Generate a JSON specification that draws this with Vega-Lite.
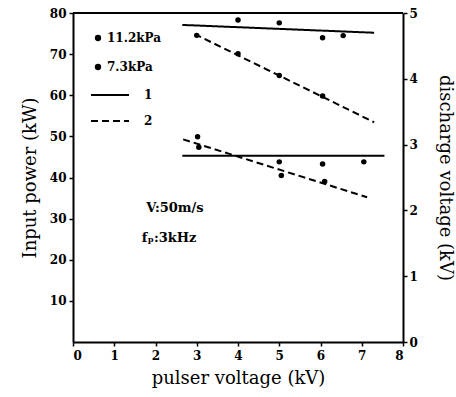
{
  "$schema": "https://vega.github.io/schema/vega-lite/v6.json",
  "autosize": "none",
  "width": 330,
  "height": 329,
  "padding": {"left": 73, "top": 13, "right": 53, "bottom": 55},
  "background": "white",
  "config": {
    "view": {"stroke": null},
    "font": "DejaVu Serif",
    "axis": {
      "labelFont": "DejaVu Serif", "labelFontWeight": "bold", "labelFontSize": 12, "labelColor": "black",
      "titleFont": "DejaVu Serif", "titleFontWeight": "normal", "titleFontSize": 18, "titleColor": "black",
      "domainColor": "black", "domainWidth": 2, "tickColor": "black", "tickWidth": 1.5, "tickSize": 4, "grid": false
    },
    "legend": {
      "labelFont": "DejaVu Serif", "labelFontWeight": "bold", "labelFontSize": 12, "labelColor": "black"
    }
  },
  "datasets": {
    "powerPts": [
      {"x": 4.0, "y": 78.3, "pressure": "11.2kPa"},
      {"x": 5.0, "y": 77.6, "pressure": "11.2kPa"},
      {"x": 6.05, "y": 74.0, "pressure": "11.2kPa"},
      {"x": 6.55, "y": 74.5, "pressure": "11.2kPa"},
      {"x": 3.02, "y": 49.9, "pressure": "7.3kPa"},
      {"x": 5.0, "y": 43.8, "pressure": "7.3kPa"},
      {"x": 6.05, "y": 43.3, "pressure": "7.3kPa"},
      {"x": 7.05, "y": 43.8, "pressure": "7.3kPa"}
    ],
    "powerLines": [
      {"x": 2.65, "y": 77.1, "series": "upper", "line": "1"},
      {"x": 7.3, "y": 75.2, "series": "upper", "line": "1"},
      {"x": 2.65, "y": 45.3, "series": "lower", "line": "1"},
      {"x": 7.55, "y": 45.3, "series": "lower", "line": "1"}
    ],
    "voltPts": [
      {"x": 3.0, "v": 4.66, "pressure": "11.2kPa"},
      {"x": 4.0, "v": 4.38, "pressure": "11.2kPa"},
      {"x": 5.0, "v": 4.05, "pressure": "11.2kPa"},
      {"x": 6.05, "v": 3.74, "pressure": "11.2kPa"},
      {"x": 3.05, "v": 2.96, "pressure": "7.3kPa"},
      {"x": 5.05, "v": 2.53, "pressure": "7.3kPa"},
      {"x": 6.1, "v": 2.44, "pressure": "7.3kPa"}
    ],
    "voltLines": [
      {"x": 2.95, "v": 4.68, "series": "upper", "line": "2"},
      {"x": 7.3, "v": 3.34, "series": "upper", "line": "2"},
      {"x": 2.67, "v": 3.08, "series": "lower", "line": "2"},
      {"x": 7.13, "v": 2.2, "series": "lower", "line": "2"}
    ],
    "notes": [
      {"x": 2.47, "y": 32.6, "label": "V:50m/s"},
      {"x": 2.33, "y": 25.3, "label": "fₚ:3kHz"}
    ]
  },
  "layer": [
    {
      "layer": [
        {
          "data": {"name": "powerLines"},
          "mark": {"type": "line", "color": "black", "strokeWidth": 2},
          "encoding": {
            "x": {"field": "x", "type": "quantitative"},
            "y": {"field": "y", "type": "quantitative"},
            "detail": {"field": "series"},
            "strokeDash": {"field": "line", "type": "nominal",
              "scale": {"domain": ["1", "2"], "range": [[1, 0], [7, 4]]},
              "legend": {"title": null, "orient": "none", "legendX": 17, "legendY": 62, "symbolType": "stroke", "symbolSize": 1444, "symbolStrokeWidth": 2, "symbolStrokeColor": "black", "rowPadding": -14, "labelOffset": 14, "padding": 0}
            }
          }
        },
        {
          "data": {"name": "powerPts"},
          "mark": {"type": "point", "filled": true, "color": "black", "size": 30, "opacity": 1},
          "encoding": {
            "x": {"field": "x", "type": "quantitative"},
            "y": {"field": "y", "type": "quantitative"},
            "shape": {"field": "pressure", "type": "nominal",
              "scale": {"domain": ["11.2kPa", "7.3kPa"], "range": ["circle", "circle"]},
              "legend": {"title": null, "orient": "none", "legendX": 19, "legendY": 19, "symbolFillColor": "black", "symbolStrokeColor": "black", "symbolSize": 40, "rowPadding": 15, "labelOffset": 3, "padding": 0}
            }
          }
        },
        {
          "data": {"name": "notes"},
          "mark": {"type": "text", "font": "DejaVu Serif", "fontWeight": "bold", "fontSize": 13, "color": "black"},
          "encoding": {
            "x": {"field": "x", "type": "quantitative"},
            "y": {"field": "y", "type": "quantitative"},
            "text": {"field": "label"}
          }
        }
      ],
      "encoding": {
        "x": {"field": "x", "type": "quantitative",
          "scale": {"domain": [0, 8], "nice": false},
          "axis": {"values": [0, 1, 2, 3, 4, 5, 6, 7, 8], "title": "pulser voltage (kV)", "titlePadding": 8, "labelPadding": 4}
        },
        "y": {"field": "y", "type": "quantitative",
          "scale": {"domain": [0, 80], "nice": false},
          "axis": {"values": [10, 20, 30, 40, 50, 60, 70, 80], "title": "Input power (kW)", "titlePadding": 10, "labelPadding": 3}
        }
      }
    },
    {
      "layer": [
        {
          "data": {"values": [{"x": 0, "xEnd": 8, "v": 5}]},
          "mark": {"type": "rule", "color": "black", "strokeWidth": 2},
          "encoding": {
            "x": {"field": "x", "type": "quantitative"},
            "x2": {"field": "xEnd"},
            "y": {"field": "v", "type": "quantitative"}
          }
        },
        {
          "data": {"name": "voltLines"},
          "mark": {"type": "line", "color": "black", "strokeWidth": 2},
          "encoding": {
            "x": {"field": "x", "type": "quantitative"},
            "y": {"field": "v", "type": "quantitative"},
            "detail": {"field": "series"},
            "strokeDash": {"field": "line", "type": "nominal"}
          }
        },
        {
          "data": {"name": "voltPts"},
          "mark": {"type": "point", "filled": true, "color": "black", "size": 30, "opacity": 1},
          "encoding": {
            "x": {"field": "x", "type": "quantitative"},
            "y": {"field": "v", "type": "quantitative"},
            "shape": {"field": "pressure", "type": "nominal"}
          }
        }
      ],
      "encoding": {
        "x": {"field": "x", "type": "quantitative"},
        "y": {"field": "v", "type": "quantitative",
          "scale": {"domain": [0, 5], "nice": false},
          "axis": {"orient": "right", "values": [0, 1, 2, 3, 4, 5], "title": "discharge voltage (kV)", "titlePadding": 18}
        }
      }
    }
  ],
  "resolve": {"scale": {"y": "independent"}}
}
